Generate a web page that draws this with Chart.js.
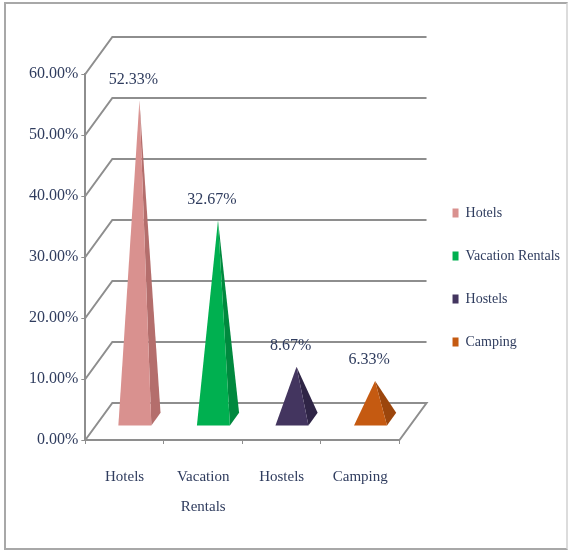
<!DOCTYPE html>
<html>
<head>
	<title>Accommodation share</title>
	<script src="https://cdn.jsdelivr.net/npm/chart.js@4"></script>
	<style>
		body { margin: 0; background: #fff; }
		#wrap { position: relative; width: 570px; height: 550px; }
		#frame { position: absolute; left: 4px; top: 2px; width: 560px; height: 544px; border: 2px solid #a8a8a8; border-right-color: #dcdcdc; }
	</style>
</head>
<body>
	<div id="wrap">
		<canvas id="chart" width="570" height="550"></canvas>
		<div id="frame"></div>
	</div>

	<script type="text/javascript">
		var categories = ['Hotels', 'Vacation Rentals', 'Hostels', 'Camping'];
		var shares = [52.33, 32.67, 8.67, 6.33];
		var yTicks = [0, 10, 20, 30, 40, 50, 60];
		var frontColors = ['#d9918f', '#00b050', '#43355f', '#c55a11'];
		var sideColors = ['#b46e6c', '#00893e', '#2f2546', '#9c460c'];

		var textColor = '#2f3c5e';
		var gridColor = '#8e8e8e';
		// depth of the fake 3d box (back wall offset)
		var DX = 27, DY = -37;

		var pyramids = {
			id: 'pyramids',
			beforeDatasetsDraw: function(chart) {
				var ctx = chart.ctx, a = chart.chartArea, y = chart.scales.y;
				ctx.save();
				ctx.strokeStyle = gridColor;
				ctx.lineWidth = 2;
				yTicks.forEach(function(v) {
					var py = y.getPixelForValue(v);
					ctx.beginPath();
					ctx.moveTo(a.left, py);
					ctx.lineTo(a.left + DX, py + DY);
					ctx.lineTo(a.right + DX, py + DY);
					if (v === 0) ctx.lineTo(a.right, py);
					ctx.stroke();
				});
				ctx.restore();
			},
			beforeDatasetDraw: function() {
				return false; // bars are replaced by pyramids below
			},
			afterDatasetsDraw: function(chart) {
				var ctx = chart.ctx;
				var meta = chart.getDatasetMeta(0);
				var f0 = 0.38, f1 = 0.72, fm = 0.55;
				ctx.save();
				meta.data.forEach(function(bar, i) {
					var hw = bar.width / 2;
					var fl = [bar.x - hw + DX * f0, bar.base + DY * f0];
					var fr = [bar.x + hw + DX * f0, bar.base + DY * f0];
					var br = [bar.x + hw + DX * f1, bar.base + DY * f1];
					var top = [bar.x + DX * fm, bar.y + DY * fm];

					ctx.fillStyle = sideColors[i];
					ctx.beginPath();
					ctx.moveTo(fr[0], fr[1]); ctx.lineTo(br[0], br[1]); ctx.lineTo(top[0], top[1]);
					ctx.closePath();
					ctx.fill();

					ctx.fillStyle = frontColors[i];
					ctx.beginPath();
					ctx.moveTo(fl[0], fl[1]); ctx.lineTo(fr[0], fr[1]); ctx.lineTo(top[0], top[1]);
					ctx.closePath();
					ctx.fill();

					ctx.fillStyle = textColor;
					ctx.font = '16px "Liberation Serif"';
					ctx.textAlign = 'center';
					ctx.textBaseline = 'middle';
					ctx.fillText(shares[i].toFixed(2) + '%', top[0] - 6, top[1] - 21);
				});
				ctx.restore();
			}
		};

		var config = {
			type: 'bar',
			data: {
				labels: categories,
				datasets: [{
					label: 'Share',
					data: shares,
					backgroundColor: frontColors,
					barPercentage: 0.42,
					categoryPercentage: 1
				}]
			},
			options: {
				responsive: false,
				animation: false,
				layout: { padding: { left: 26, top: 74, right: 0, bottom: 10 } },
				plugins: {
					tooltip: { enabled: false },
					legend: {
						position: 'right',
						fullSize: false,
						maxWidth: 200,
						// empty title only nudges the items down a bit
						title: { display: true, text: ' ', padding: { top: 12, bottom: 12 }, font: { size: 14 } },
						labels: {
							boxWidth: 6,
							boxHeight: 9,
							padding: 29,
							color: textColor,
							font: { family: 'Liberation Serif', size: 14 },
							generateLabels: function() {
								return categories.map(function(c, i) {
									return { text: c, fillStyle: frontColors[i], strokeStyle: frontColors[i], fontColor: textColor, lineWidth: 0, index: i };
								});
							}
						}
					}
				},
				scales: {
					x: {
						grid: { offset: true, drawOnChartArea: false, tickLength: 4, color: gridColor },
						border: { color: gridColor, width: 2 },
						ticks: {
							padding: 18,
							color: textColor,
							font: { family: 'Liberation Serif', size: 15, lineHeight: 2 },
							maxRotation: 0,
							callback: function(v, i) {
								var c = categories[i];
								return c.indexOf(' ') > 0 ? c.split(' ') : c;
							}
						}
					},
					y: {
						min: 0,
						max: 60,
						ticks: {
							stepSize: 10,
							padding: 3,
							color: textColor,
							font: { family: 'Liberation Serif', size: 16 },
							callback: function(v) { return v.toFixed(2) + '%'; }
						},
						grid: { drawOnChartArea: false, tickLength: 4, color: gridColor },
						border: { color: gridColor, width: 2 }
					},
					// empty axis, keeps room on the right for the back wall
					depth: {
						type: 'linear',
						position: 'right',
						grid: { display: false },
						border: { display: false },
						ticks: { display: false },
						afterFit: function(s) { s.width = 24; }
					}
				}
			},
			plugins: [pyramids]
		};

		var ctx = document.getElementById('chart').getContext('2d');
		var chart = new Chart(ctx, config);
	</script>
</body>
</html>
